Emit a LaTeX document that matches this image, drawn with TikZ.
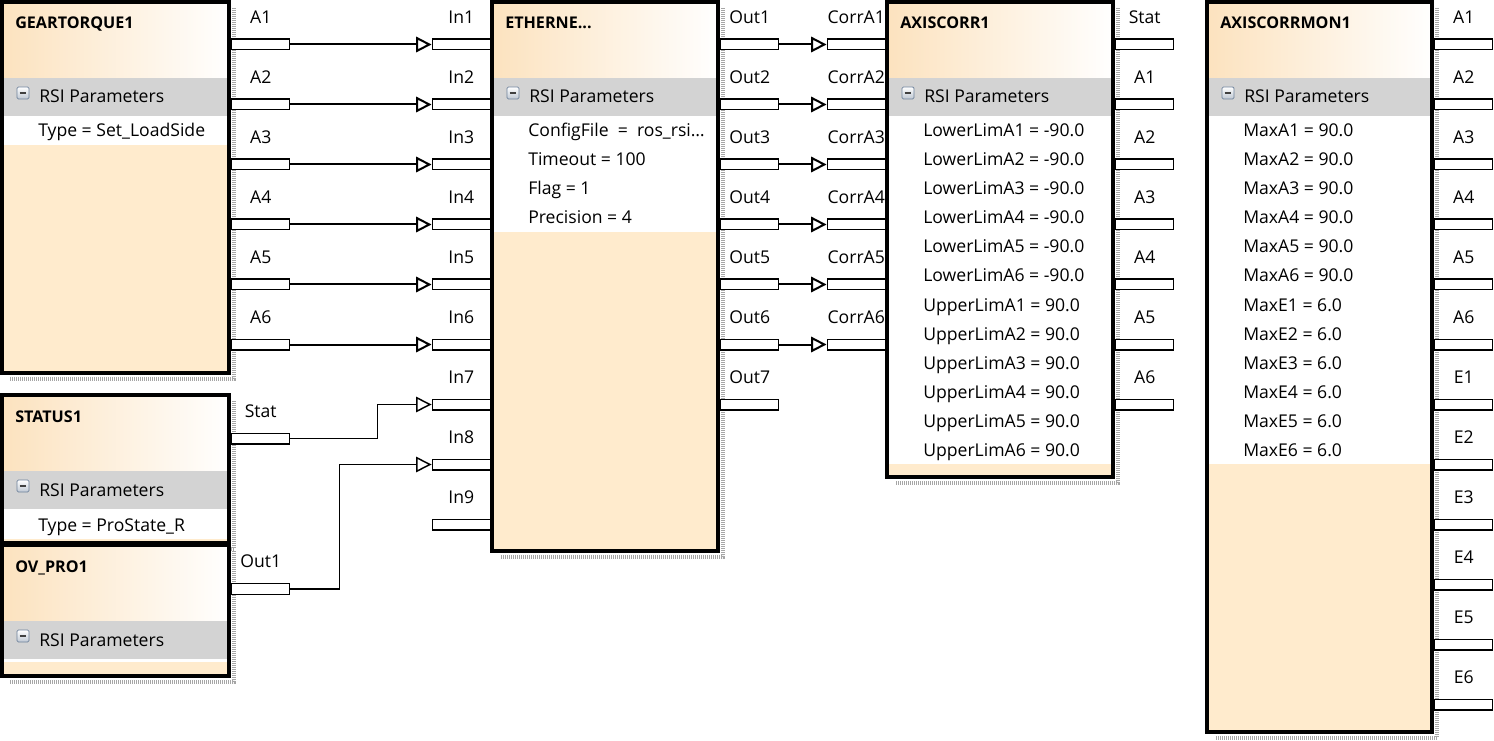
\documentclass[tikz,border=0pt]{standalone}
\usepackage{fontspec}
\setmainfont{Open Sans}
\usetikzlibrary{arrows.meta,positioning,fit}
\definecolor{blockbeige}{RGB}{255,235,205}
\definecolor{headbeige}{RGB}{252,226,190}
\definecolor{bandgray}{RGB}{211,211,211}
\definecolor{minusblue}{RGB}{110,130,155}
\tikzset{
  block/.style={
    draw,
    line width=3pt,
    inner sep=0pt,
  },
  shadowline/.style={
    draw=gray!70,
    line width=3pt,
    dash pattern=on 0.75pt off 0.75pt,
  },
  title/.style={
    font=\fontsize{12.1}{14}\selectfont\bfseries,
    inner sep=0pt,
  },
  param/.style={
    font=\fontsize{13.2}{15}\selectfont,
    inner sep=0pt,
  },
  portlabel/.style={
    param,
    anchor=base,
  },
  port/.style={
    draw,
    fill=white,
    line width=1.1pt,
    minimum width=43.5pt,
    minimum height=7.9pt,
    inner sep=0pt,
  },
  minus/.style={
    draw=minusblue,
    line width=0.6pt,
    rounded corners=1pt,
    minimum size=9pt,
    inner sep=0pt,
    top color=white,
    bottom color=minusblue!45,
    path picture={
      \draw[line width=1.4pt, black!75]
        ([xshift=2pt]path picture bounding box.west) --
        ([xshift=-2pt]path picture bounding box.east);
    },
  },
  edge/.style={
    >={Triangle[open,length=11.5pt,width=11.5pt]},
    line width=1.5pt,
  },
  post/.style={
    edge,->,
  }
}
% #1 name, #2 left, #3 top, #4 right, #5 bottom, #6 title, #7 end of white band
\newcommand\fbblock[7]{%
  \draw[shadowline] (#4+3,#3+8) -- (#4+3,#5+4) -- (#2+10,#5+4);
  \fill[blockbeige] (#2,#3) rectangle (#4,#5);
  \shade[left color=headbeige, right color=white] (#2,#3) rectangle (#4,#3+78);
  \fill[bandgray] (#2,#3+78) rectangle (#4,#3+116);
  \fill[white] (#2,#3+116) rectangle (#4,#7);
  \node[block, fit={(#2+2,#3+2) (#4-2,#5-2)}] (#1) {};
  \node[title, anchor=base west] (#1-title) at (#2+15,#3+29) {#6};
  \node[minus] (#1-minus) at (#2+23,#3+93) {};
  \node[param, anchor=base west] (#1-rsi) at (#2+39,#3+103) {RSI Parameters};
}

\begin{document}
\begin{tikzpicture}[x=0.75pt, y=-0.75pt]
  \useasboundingbox (0,0) rectangle (1494,741);

  % Blocks
  \fbblock{gear}{0}{0}{231}{375}{GEARTORQUE1}{145}
  \node[param, anchor=base west] (gear-p0) at (38,137) {Type = Set\_LoadSide};

  \fbblock{eth}{490}{0}{720}{553}{ETHERNE...}{232}
  \foreach \t [count=\k from 0] in {{ConfigFile\ \ =\ \ ros\_rsi\ldots}, {Timeout = 100}, {Flag = 1}, {Precision = 4}}
    \node[param, anchor=base west] (eth-p\k) at (528,137+29*\k) {\t};

  \fbblock{axis}{885}{0}{1115}{479}{AXISCORR1}{464}
  \foreach \t [count=\k from 0] in {
      {LowerLimA1 = -90.0}, {LowerLimA2 = -90.0}, {LowerLimA3 = -90.0},
      {LowerLimA4 = -90.0}, {LowerLimA5 = -90.0}, {LowerLimA6 = -90.0},
      {UpperLimA1 = 90.0}, {UpperLimA2 = 90.0}, {UpperLimA3 = 90.0},
      {UpperLimA4 = 90.0}, {UpperLimA5 = 90.0}, {UpperLimA6 = 90.0}}
    \node[param, anchor=base west] (axis-p\k) at (923,137+29*\k) {\t};

  \fbblock{mon}{1205}{0}{1434}{734}{AXISCORRMON1}{464}
  \foreach \t [count=\k from 0] in {
      {MaxA1 = 90.0}, {MaxA2 = 90.0}, {MaxA3 = 90.0},
      {MaxA4 = 90.0}, {MaxA5 = 90.0}, {MaxA6 = 90.0},
      {MaxE1 = 6.0}, {MaxE2 = 6.0}, {MaxE3 = 6.0},
      {MaxE4 = 6.0}, {MaxE5 = 6.0}, {MaxE6 = 6.0}}
    \node[param, anchor=base west] (mon-p\k) at (1243,137+29*\k) {\t};

  \fbblock{status}{0}{393}{231}{545}{STATUS1}{539}
  \node[param, anchor=base west] (status-p0) at (38,531) {Type = ProState\_R};

  \fbblock{ovpro}{0}{543}{231}{678}{OV\_PRO1}{662}

  % Ports
  \foreach \k in {1,...,6} {
    \node[port, anchor=west] (gear-a\k) at (231,-15.5+60*\k) {};
    \node[portlabel] at ([yshift=16.1pt]gear-a\k.center) {A\k};
  }
  \foreach \k in {1,...,9} {
    \node[port, anchor=east] (eth-in\k) at (491,-15.5+60*\k) {};
    \node[portlabel] at ([yshift=16.1pt]eth-in\k.center) {In\k};
  }
  \foreach \k in {1,...,7} {
    \node[port, anchor=west] (eth-out\k) at (720,-15.5+60*\k) {};
    \node[portlabel] at ([yshift=16.1pt]eth-out\k.center) {Out\k};
  }
  \foreach \k in {1,...,6} {
    \node[port, anchor=east] (axis-in\k) at (886,-15.5+60*\k) {};
    \node[portlabel] at ([yshift=16.1pt]axis-in\k.center) {CorrA\k};
  }
  \foreach \lab [count=\k] in {Stat, A1, A2, A3, A4, A5, A6} {
    \node[port, anchor=west] (axis-out\k) at (1115,-15.5+60*\k) {};
    \node[portlabel] at ([yshift=16.1pt]axis-out\k.center) {\lab};
  }
  \foreach \lab [count=\k] in {A1, A2, A3, A4, A5, A6, E1, E2, E3, E4, E5, E6} {
    \node[port, anchor=west] (mon-out\k) at (1434,-15.5+60*\k) {};
    \node[portlabel] at ([yshift=16.1pt]mon-out\k.center) {\lab};
  }
  \node[port, anchor=west] (status-stat) at (231,438.5) {};
  \node[portlabel] at ([yshift=16.1pt]status-stat.center) {Stat};
  \node[port, anchor=west] (ovpro-out1) at (231,589) {};
  \node[portlabel] at ([yshift=16.1pt]ovpro-out1.center) {Out1};

  % Connections
  \foreach \k in {1,...,6}
    \draw[post] (gear-a\k.east) -- (eth-in\k.west);
  \foreach \k in {1,...,6}
    \draw[post] (eth-out\k.east) -- (axis-in\k.west);
  \draw[post, line width=1.1pt] (status-stat.east) -- ++(87,0) |- (eth-in7.west);
  \draw[post, line width=1.1pt] (ovpro-out1.east) -- ++(49,0) |- (eth-in8.west);
\end{tikzpicture}
\end{document}
